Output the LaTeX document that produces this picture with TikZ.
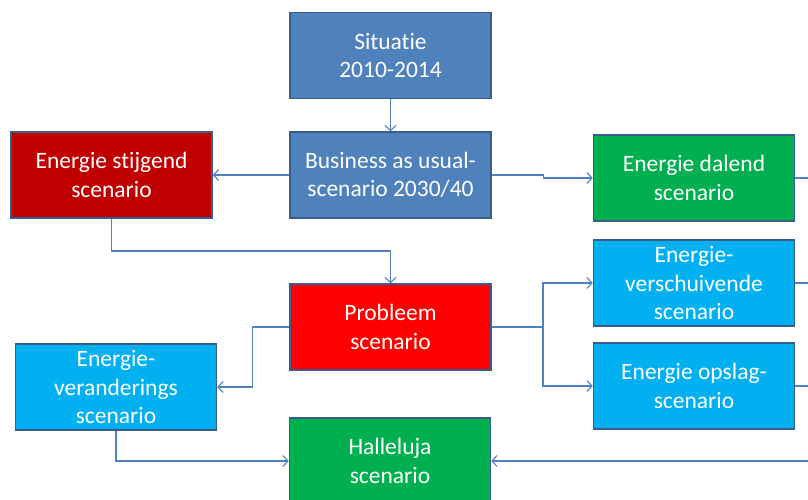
\documentclass[tikz,border=0pt]{standalone}
\usepackage{fontspec}
\setmainfont[Ligatures=NoCommon]{Carlito}
\usetikzlibrary{arrows.meta}
\definecolor{bordc}{HTML}{385D8A}
\definecolor{linec}{HTML}{4F81BD}
\definecolor{steel}{HTML}{4F81BD}
\definecolor{dred}{HTML}{C00000}
\definecolor{bred}{HTML}{FF0000}
\definecolor{green}{HTML}{00B050}
\definecolor{lblue}{HTML}{00B0F0}
\tikzset{
  box/.style={draw=bordc, line width=1.6pt, text=white, minimum width=201pt, minimum height=86pt,
    align=center, inner sep=0pt, font=\fontsize{23.5}{28.5}\selectfont},
  conn/.style={draw=linec, line width=1.1pt},
  arr/.style={conn, -{Straight Barb[length=5pt,width=11pt,line width=1.1pt]}}
}
\begin{document}
\begin{tikzpicture}[x=1pt,y=-1pt]
\useasboundingbox (0,0) rectangle (808,499);
\node[box, fill=steel] (sit) at (390.5,55.5) {Situatie\\2010-2014};
\node[box, fill=steel] (bau) at (390.5,175) {Business as usual-\\scenario 2030/40};
\node[box, fill=dred] (stij) at (111.5,175) {Energie stijgend\\scenario};
\node[box, fill=green] (dal) at (694,178) {Energie dalend\\scenario};
\node[box, fill=bred] (prob) at (390.5,327) {Probleem\\scenario};
\node[box, fill=lblue] (vers) at (694,283) {Energie-\\verschuivende\\scenario};
\node[box, fill=lblue] (ops) at (694,386) {Energie opslag-\\scenario};
\node[box, fill=lblue] (ver) at (116,387) {Energie-\\veranderings\\scenario};
\node[box, fill=green] (hal) at (390,461) {Halleluja\\scenario};
\coordinate (j1) at (390.5,251);
\coordinate (br) at (543,327);
\coordinate (r1) at (808,178);
\coordinate (r2) at (808,283);
\coordinate (r3) at (808,386);
\coordinate (r4) at (808,461);
\draw[arr] (sit.south) -- (bau.north);
\draw[arr] (bau.west) -- (stij.east);
\draw[arr] (bau.east) -- ++(52,0) |- (dal.west);
\draw[arr] (stij.south) |- (j1) -- (prob.north);
\draw[conn] (prob.east) -- (br);
\draw[arr] (br) |- (vers.west);
\draw[arr] (br) |- (ops.west);
\draw[arr] (prob.west) -- ++(-37,0) |- (ver.east);
\draw[arr] (ver.south) |- (hal.west);
\draw[conn] (dal.east) -- (r1);
\draw[conn] (vers.east) -- (r2);
\draw[conn] (ops.east) -- (r3);
\draw[arr] (r4) -- (hal.east);
\end{tikzpicture}
\end{document}
